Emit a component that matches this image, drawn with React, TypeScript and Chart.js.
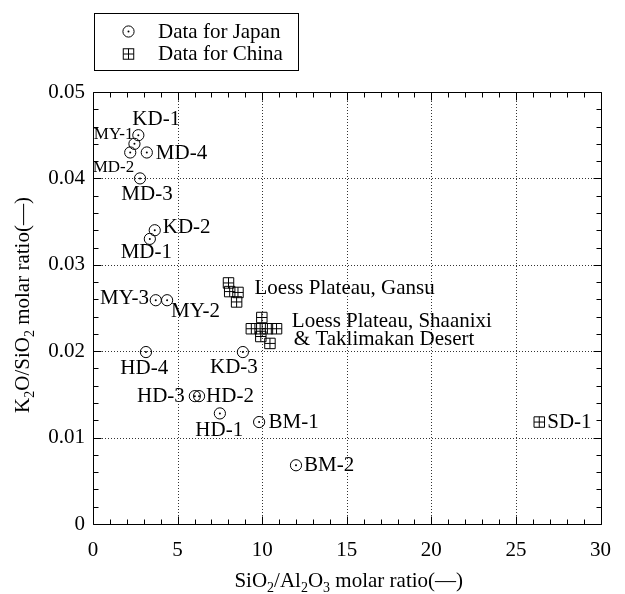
import React, { useEffect, useRef } from 'react';
import { Chart, registerables } from 'chart.js';

Chart.register(...registerables);

const FONT = "'Liberation Serif', 'Times New Roman', serif";

// ---- data ----
const japanNames = ['KD-1', 'MY-1', 'MD-2', 'MD-4', 'MD-3', 'KD-2', 'MD-1', 'MY-3', 'MY-2', 'HD-4', 'KD-3', 'HD-3', 'HD-2', 'HD-1', 'BM-1', 'BM-2'];
const japanX = [2.68, 2.45, 2.2, 3.18, 2.78, 3.65, 3.36, 3.71, 4.38, 3.13, 8.86, 6.02, 6.27, 7.5, 9.82, 12.0];
const japanY = [0.045, 0.044, 0.043, 0.043, 0.040, 0.034, 0.033, 0.0259, 0.0259, 0.0199, 0.0199, 0.0148, 0.0148, 0.0128, 0.0118, 0.0068];

const chinaGroups = ['Gansu', 'Gansu', 'Gansu', 'Gansu', 'Shaanxi', 'Shaanxi', 'Shaanxi', 'Shaanxi', 'Shaanxi', 'Shaanxi', 'Shaanxi', 'SD-1'];
const chinaX = [8.01, 8.08, 8.57, 8.49, 9.98, 9.36, 9.88, 10.31, 10.85, 9.92, 10.46, 26.38];
const chinaY = [0.0279, 0.0269, 0.0268, 0.0257, 0.0239, 0.0226, 0.0226, 0.0226, 0.0226, 0.0217, 0.0209, 0.0118];

const legendLabels = ['Data for Japan', 'Data for China'];
const xTickStep = 5;
const yTickStep = 0.01;

// label placement relative to marks: [dataset, index, text, dx, dy, align, size]
const pointLabels: [number, number, string, number, number, CanvasTextAlign, number][] = [
  [0, 0, 'KD-1', -6, -16, 'left', 21],
  [0, 1, 'MY-1', -1, -9, 'right', 17],
  [0, 2, 'MD-2', 4, 15.5, 'right', 17],
  [0, 3, 'MD-4', 9, 1, 'left', 21],
  [0, 4, 'MD-3', 7, 16, 'center', 21],
  [0, 5, 'KD-2', 8, -2.4, 'left', 21],
  [0, 6, 'MD-1', -3.5, 14, 'center', 21],
  [0, 7, 'MY-3', -6.7, -1.4, 'right', 21],
  [0, 8, 'MY-2', 4, 11, 'left', 21],
  [0, 9, 'HD-4', -1.7, 16.6, 'center', 21],
  [0, 10, 'KD-3', -9, 15.6, 'center', 21],
  [0, 11, 'HD-3', -10, 0, 'right', 21],
  [0, 12, 'HD-2', 7, 0, 'left', 21],
  [0, 13, 'HD-1', -0.6, 16.7, 'center', 21],
  [0, 14, 'BM-1', 9.4, 0, 'left', 21],
  [0, 15, 'BM-2', 8, 0, 'left', 21],
  [1, 0, 'Loess Plateau, Gansu', 26, 5.6, 'left', 21],
  [1, 4, 'Loess Plateau, Shaanixi', 30, 4, 'left', 21],
  [1, 4, '& Taklimakan Desert', 32, 22.3, 'left', 21],
  [1, 11, 'SD-1', 8, 0, 'left', 21],
];

type Seg = { t: string; sub?: boolean };
const xTitle: Seg[] = [{ t: 'SiO' }, { t: '2', sub: true }, { t: '/Al' }, { t: '2', sub: true }, { t: 'O' }, { t: '3', sub: true }, { t: ' molar ratio' }, { t: '(\u2014)' }];
const yTitle: Seg[] = [{ t: 'K' }, { t: '2', sub: true }, { t: 'O/SiO' }, { t: '2', sub: true }, { t: ' molar ratio' }, { t: '(\u2014)' }];

const CIRCLE_R = 5.6;
const RECT_R = 7.4; // Chart.js rect side = 2 * r * SQRT1_2

function drawDot(ctx: CanvasRenderingContext2D, x: number, y: number) {
  ctx.beginPath(); ctx.arc(x, y, 1.0, 0, Math.PI * 2); ctx.fill();
}
function drawCross(ctx: CanvasRenderingContext2D, x: number, y: number) {
  const h = RECT_R * Math.SQRT1_2;
  ctx.beginPath();
  ctx.moveTo(x - h, y); ctx.lineTo(x + h, y);
  ctx.moveTo(x, y - h); ctx.lineTo(x, y + h);
  ctx.stroke();
}

function drawRich(ctx: CanvasRenderingContext2D, segs: Seg[], size: number, subSize: number) {
  const widths = segs.map(s => { ctx.font = `${s.sub ? subSize : size}px ${FONT}`; return ctx.measureText(s.t).width; });
  const total = widths.reduce((a, b) => a + b, 0);
  let x = -total / 2;
  ctx.textAlign = 'left';
  ctx.textBaseline = 'alphabetic';
  segs.forEach((s, i) => {
    ctx.font = `${s.sub ? subSize : size}px ${FONT}`;
    ctx.fillText(s.t, x, s.sub ? 5 : 0);
    x += widths[i];
  });
}

export default function App() {
  const ref = useRef<HTMLCanvasElement>(null);
  useEffect(() => {
    const framePlugin = {
      id: 'frame',
      beforeDatasetsDraw(chart: any) {
        const { ctx, chartArea: a, scales } = chart;
        const xs = scales.x, ys = scales.y;
        ctx.save();
        ctx.strokeStyle = '#333';
        ctx.lineWidth = 1;
        ctx.setLineDash([1, 2]);
        ctx.beginPath();
        xs.ticks.forEach((t: any) => {
          if (t.value <= xs.min || t.value >= xs.max) return;
          const px = Math.round(xs.getPixelForValue(t.value)) + 0.5;
          ctx.moveTo(px, a.top); ctx.lineTo(px, a.bottom);
        });
        ys.ticks.forEach((t: any) => {
          if (t.value <= ys.min || t.value >= ys.max) return;
          const py = Math.round(ys.getPixelForValue(t.value)) + 0.5;
          ctx.moveTo(a.left, py); ctx.lineTo(a.right, py);
        });
        ctx.stroke();
        ctx.restore();
      },
      afterDatasetsDraw(chart: any) {
        const { ctx, chartArea: a, scales } = chart;
        const xs = scales.x, ys = scales.y;
        ctx.save();
        // inner marks of symbols
        ctx.fillStyle = '#000';
        ctx.strokeStyle = '#000';
        ctx.lineWidth = 1;
        chart.getDatasetMeta(0).data.forEach((el: any) => drawDot(ctx, el.x, el.y));
        chart.getDatasetMeta(1).data.forEach((el: any) => drawCross(ctx, el.x, el.y));

        ctx.beginPath();
        const L = Math.round(a.left) + 0.5, R = Math.round(a.right) + 0.5, T = Math.round(a.top) + 0.5, B = Math.round(a.bottom) + 0.5;
        ctx.rect(L, T, R - L, B - T);
        const xMinor = xTickStep / 5, yMinor = yTickStep / 5;
        for (let k = 0; k <= Math.round((xs.max - xs.min) / xMinor); k++) {
          const v = xs.min + k * xMinor;
          const len = k % 5 === 0 ? 8 : 5;
          const px = Math.round(xs.getPixelForValue(v)) + 0.5;
          ctx.moveTo(px, B); ctx.lineTo(px, B - len);
          ctx.moveTo(px, T); ctx.lineTo(px, T + len);
        }
        for (let k = 0; k <= Math.round((ys.max - ys.min) / yMinor); k++) {
          const v = ys.min + k * yMinor;
          const len = k % 5 === 0 ? 8 : 5;
          const py = Math.round(ys.getPixelForValue(v)) + 0.5;
          ctx.moveTo(L, py); ctx.lineTo(L + len, py);
          ctx.moveTo(R, py); ctx.lineTo(R - len, py);
        }
        ctx.stroke();

        // point labels
        ctx.textBaseline = 'middle';
        pointLabels.forEach(([ds, i, text, dx, dy, align, size]) => {
          const el = chart.getDatasetMeta(ds).data[i];
          if (!el) return;
          ctx.font = `${size}px ${FONT}`;
          ctx.textAlign = align;
          ctx.fillText(text, el.x + dx, el.y + dy);
        });
        ctx.restore();
      },
      afterDraw(chart: any) {
        const { ctx, chartArea: a } = chart;
        ctx.save();
        ctx.fillStyle = '#000';
        ctx.strokeStyle = '#000';
        ctx.lineWidth = 1;
        // legend
        ctx.strokeRect(94.5, 13.5, 204, 57);
        ctx.font = `21px ${FONT}`;
        ctx.textAlign = 'left';
        ctx.textBaseline = 'middle';
        legendLabels.forEach((lab, k) => {
          const cy = 31.5 + k * 22.5;
          const cx = 128.5;
          if (k === 0) {
            ctx.beginPath(); ctx.arc(cx, cy, CIRCLE_R, 0, Math.PI * 2); ctx.stroke();
            drawDot(ctx, cx, cy);
          } else {
            const h = RECT_R * Math.SQRT1_2;
            ctx.strokeRect(cx - h, cy - h, 2 * h, 2 * h);
            drawCross(ctx, cx, cy);
          }
          ctx.fillText(lab, 158, cy + 0.5);
        });
        // x title
        ctx.save();
        ctx.translate((a.left + a.right) / 2 + 2, 587);
        drawRich(ctx, xTitle, 21, 14);
        ctx.restore();
        // y title
        ctx.save();
        ctx.translate(29, (a.top + a.bottom) / 2 - 3);
        ctx.rotate(-Math.PI / 2);
        drawRich(ctx, yTitle, 21, 14);
        ctx.restore();
        ctx.restore();
      },
    };

    const chart = new Chart(ref.current!, {
      type: 'scatter',
      data: {
        datasets: [
          {
            label: legendLabels[0],
            data: japanX.map((x, i) => ({ x, y: japanY[i] })),
            pointStyle: 'circle',
            pointRadius: CIRCLE_R,
            borderColor: '#000',
            backgroundColor: 'rgba(0,0,0,0)',
            borderWidth: 1,
          },
          {
            label: legendLabels[1],
            data: chinaX.map((x, i) => ({ x, y: chinaY[i] })),
            pointStyle: 'rect',
            pointRadius: RECT_R,
            borderColor: '#000',
            backgroundColor: 'rgba(0,0,0,0)',
            borderWidth: 1,
          },
        ],
      },
      options: {
        animation: false,
        responsive: false,
        maintainAspectRatio: false,
        layout: { padding: { top: 92, right: 15, left: 0, bottom: 0 } },
        plugins: { legend: { display: false }, tooltip: { enabled: false } },
        scales: {
          x: {
            type: 'linear',
            min: 0,
            max: 30,
            ticks: { stepSize: xTickStep, color: '#000', font: { family: FONT, size: 21 }, padding: 14, maxRotation: 0 },
            grid: { display: false, drawTicks: false },
            border: { display: false },
            afterFit: (s: any) => { s.height = 70; },
          },
          y: {
            type: 'linear',
            min: 0,
            max: 0.05,
            ticks: {
              stepSize: yTickStep,
              color: '#000',
              font: { family: FONT, size: 21 },
              padding: 8,
              callback: (v: any) => (Number(v) === 0 ? '0' : Number(v).toFixed(2)),
            },
            grid: { display: false, drawTicks: false },
            border: { display: false },
            afterFit: (s: any) => { s.width = 93; },
          },
        },
      },
      plugins: [framePlugin],
    });
    return () => chart.destroy();
  }, []);
  return (
    <div style={{ position: 'absolute', left: 0, top: 0, width: 625, height: 594 }}>
      <canvas ref={ref} width={625} height={594} style={{ width: 625, height: 594 }} />
    </div>
  );
}
